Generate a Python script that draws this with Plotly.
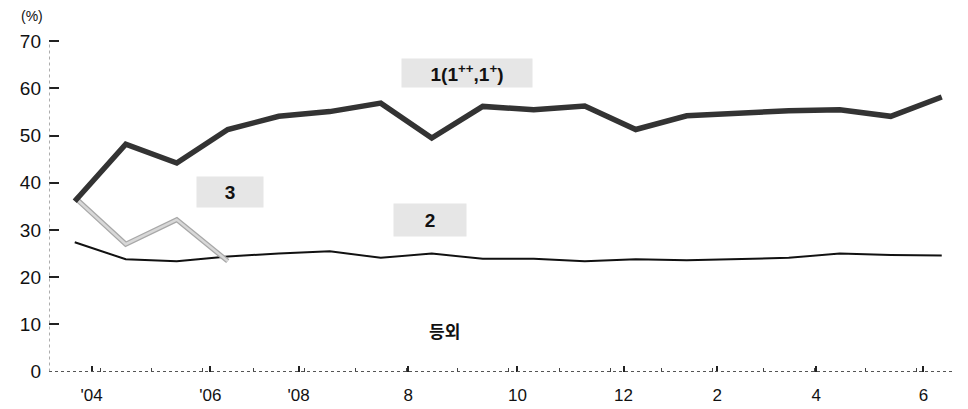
import plotly.graph_objects as go

# ---- data ----
x_idx = list(range(18))
series1 = [36.1, 48.2, 44.2, 51.3, 54.1, 55.1, 56.9, 49.5, 56.2, 55.5, 56.3, 51.3,
           54.2, 54.8, 55.3, 55.5, 54.1, 58.2]
series2 = [27.4, 23.8, 23.4, 24.4, 25.0, 25.5, 24.1, 25.0, 23.9, 23.9, 23.4, 23.8,
           23.6, 23.9, 24.1, 25.0, 24.7, 24.6]
series3 = [36.9, 27.0, 32.2, 23.4] + [None] * 14

tick_pos = [0.33, 2.66, 4.39, 6.54, 8.68, 10.76, 12.6, 14.54, 16.64]
tick_text = ["'04", "'06", "'08", "8", "10", "12", "2", "4", "6"]
y_ticks = [0, 10, 20, 30, 40, 50, 60, 70]

FONT = "Liberation Sans, Arial, sans-serif"
KFONT = "Noto Sans CJK KR, sans-serif"

fig = go.Figure()
fig.add_trace(go.Scatter(x=x_idx, y=series2, mode="lines",
                         line=dict(color="#111111", width=2), showlegend=False))
fig.add_trace(go.Scatter(x=x_idx, y=series3, mode="lines",
                         line=dict(color="#a8a8a8", width=5), showlegend=False))
fig.add_trace(go.Scatter(x=x_idx, y=series3, mode="lines",
                         line=dict(color="#d8d8d8", width=2.5), showlegend=False))
fig.add_trace(go.Scatter(x=x_idx, y=series1, mode="lines",
                         line=dict(color="#333333", width=5.5), showlegend=False))

x0, x1 = -0.505, 17.26
# dotted axis lines
fig.add_shape(type="line", xref="x", yref="y", x0=x0, x1=x1, y0=0, y1=0,
              line=dict(color="#555555", width=1.3, dash="dot"))
fig.add_shape(type="line", xref="x", yref="y", x0=x0, x1=x0, y0=0, y1=70,
              line=dict(color="#777777", width=1.2, dash="dot"))

annots = [
    dict(text="1(1<sup>++</sup>,1<sup>+</sup>)", x=7.7, y=63.3, size=19, w=130, h=28),
    dict(text="3", x=3.05, y=38.0, size=19, w=66, h=30),
    dict(text="2", x=6.97, y=32.2, size=19, w=72, h=32),
]
for a in annots:
    fig.add_annotation(x=a["x"], y=a["y"], xref="x", yref="y", text="<b>" + a["text"] + "</b>",
                       showarrow=False, font=dict(family=FONT, size=a["size"], color="#111"),
                       bgcolor="#e6e6e6", width=a["w"], height=a["h"], borderpad=0)

fig.add_annotation(x=7.25, y=8.8, xref="x", yref="y", text="<b>등외</b>", showarrow=False,
                   font=dict(family=KFONT, size=17, color="#111"))
fig.add_annotation(x=0, y=1, xref="paper", yref="paper", text="(%)", showarrow=False,
                   xanchor="left", yanchor="bottom", xshift=-30, yshift=4,
                   font=dict(family=FONT, size=14, color="#111"))

fig.update_layout(
    width=968, height=409,
    margin=dict(l=32, r=21, t=22, b=45),
    paper_bgcolor="white", plot_bgcolor="white",
    font=dict(family=FONT, size=15, color="#111"),
    xaxis=dict(range=[x0, x1], showgrid=False, zeroline=False, showline=False,
               tickmode="array", tickvals=tick_pos, ticktext=tick_text,
               ticks="inside", ticklen=6, tickwidth=1.5, tickcolor="#222",
               tickfont=dict(size=17), ticklabelstandoff=11,
               minor=dict(tickmode="array", tickvals=[i + 0.5 for i in range(17)],
                          ticks="inside", ticklen=4, tickwidth=1, tickcolor="#444")),
    yaxis=dict(range=[-0.1, 72.4], showgrid=False, zeroline=False, showline=False,
               tickmode="array", tickvals=y_ticks,
               ticks="inside", ticklen=10, tickwidth=2, tickcolor="#222",
               tickfont=dict(size=19), ticklabelstandoff=7),
)

fig.write_html("out.html")
